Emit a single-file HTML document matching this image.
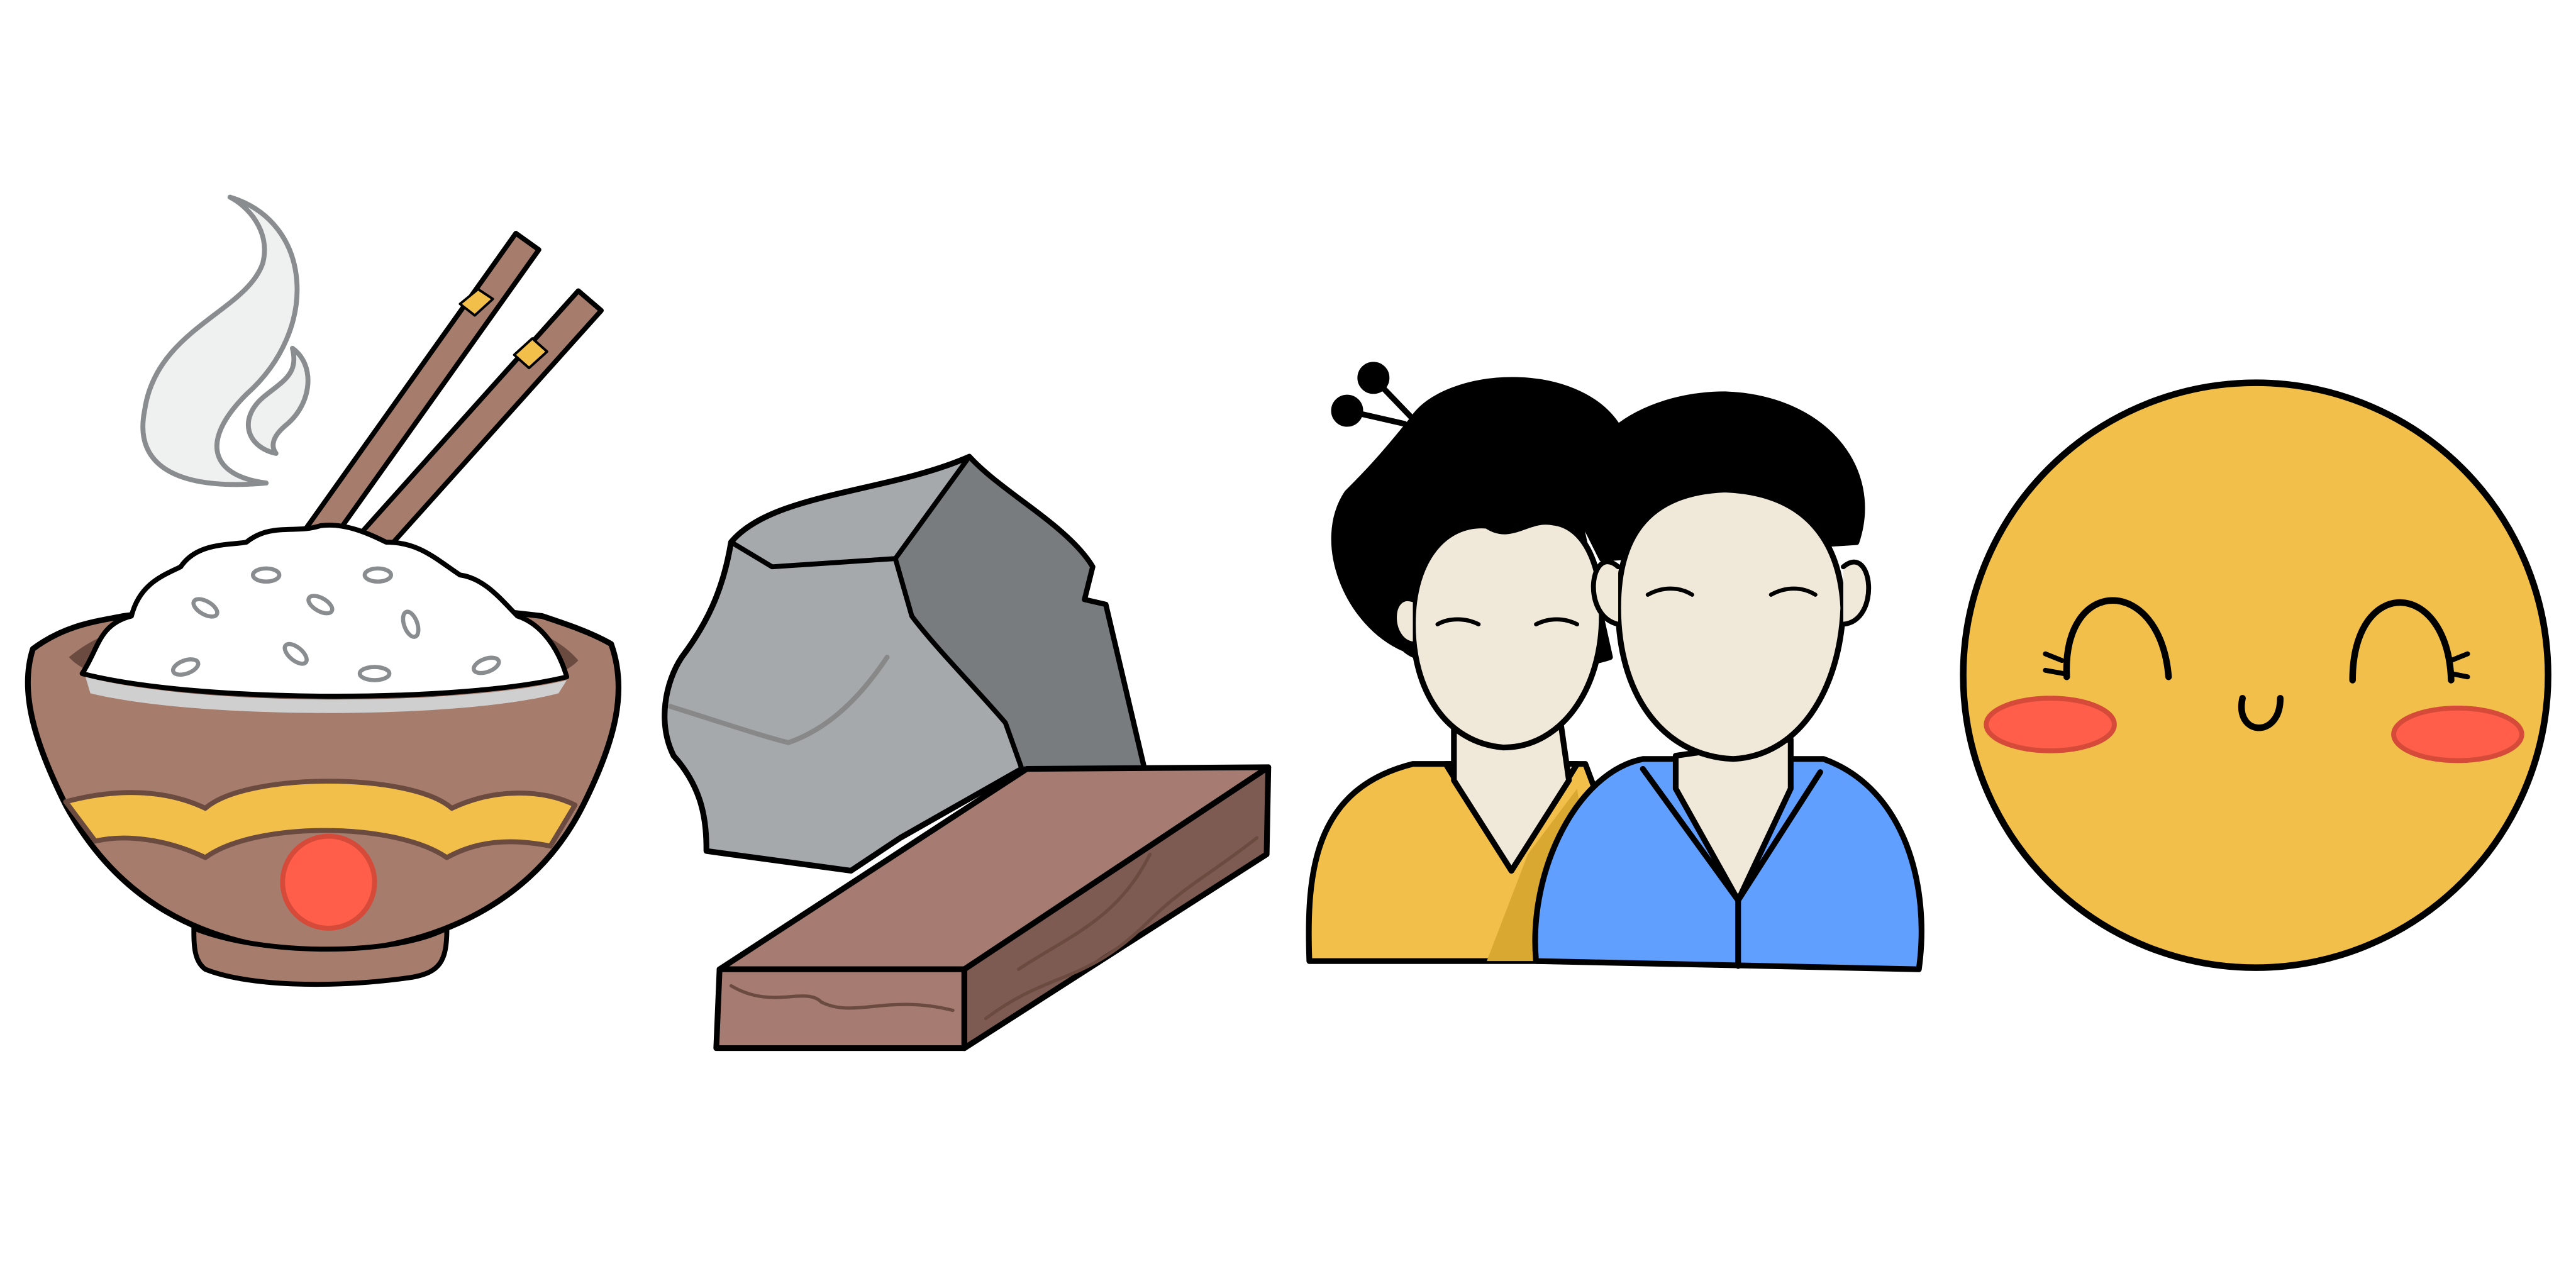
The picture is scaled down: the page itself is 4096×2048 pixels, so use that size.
<!DOCTYPE html>
<html><head><meta charset="utf-8"><title>Illustrations</title>
<style>html,body{margin:0;padding:0;background:#fff;}svg{display:block;}</style></head>
<body>
<svg width="4096" height="2048" viewBox="0 0 1568 784" xmlns="http://www.w3.org/2000/svg" stroke-linejoin="round" stroke-linecap="round">
<rect width="1568" height="784" fill="#fff"/>

<!-- RICE BOWL -->
<g>
  <g fill="#eff1f0" stroke="#8a8d8f" stroke-width="3">
    <path d="M140 120 C190 135,195 200,150 240 C120 270,130 290,162 294 C120 298,80 290,88 250 C95 200,150 190,160 160 C165 140,150 125,140 120Z"/>
    <path d="M178 212 C192 222,190 245,175 258 C165 266,165 272,168 276 C150 272,145 255,160 242 C172 232,182 228,178 212Z"/>
  </g>
  <g stroke="#000" stroke-width="3">
    <polygon points="186,322 314,142 328,152 200,332" fill="#a67c6c"/>
    <polygon points="204,342 352,177 366,189 218,354" fill="#a67c6c"/>
    <polygon points="280,185 291,176 300,182 289,192" fill="#f2c04a" stroke-width="1.5"/>
    <polygon points="313,216 324,206 333,214 322,224" fill="#f2c04a" stroke-width="1.5"/>
  </g>
  <path d="M20 395 C40 380,60 378,75 375 C150 365,250 365,330 375 C345 380,360 385,372 392 C382 420,375 450,355 490 C330 540,280 575,200 580 C120 578,70 545,40 490 C20 450,12 420,20 395Z" fill="#a67c6c" stroke="#000" stroke-width="3.5"/>
  <path d="M42 400 C60 385,80 380,100 378 L300 378 C320 380,340 388,352 402 C340 415,300 425,200 427 C100 425,55 415,42 400Z" fill="#6b4a40"/>
  <path d="M50 410 C60 395,60 380,80 375 C85 355,100 350,110 345 C120 330,140 332,150 330 C165 318,180 325,195 320 C210 318,225 325,235 330 C255 330,265 340,280 350 C295 352,305 365,315 375 C330 380,340 395,345 412 C280 428,120 428,50 410Z" fill="#fff" stroke="#000" stroke-width="3"/>
  <path d="M52 412 C120 430,280 430,345 414 L340 422 C280 438,120 438,55 422Z" fill="#cfcfcf"/>
  <path d="M40 488 C70 480,100 480,125 492 C150 470,250 470,275 492 C300 480,330 480,350 490 L335 515 C310 510,290 512,272 522 C240 500,155 500,125 522 C100 510,75 508,58 512Z" fill="#f2c04a" stroke="#6b4a40" stroke-width="3"/>
  <circle cx="200" cy="537" r="28" fill="#ff5f4a" stroke="#d64a3a" stroke-width="3"/>
  <path d="M118 565 C160 582,240 582,272 565 C272 585,268 592,250 595 C200 602,150 600,125 590 C118 585,118 575,118 565Z" fill="#a67c6c" stroke="#000" stroke-width="3"/>
  <g fill="none" stroke="#8a8d8f" stroke-width="2.5">
    <ellipse cx="125" cy="370" rx="8" ry="4" transform="rotate(30 125 370)"/>
    <ellipse cx="162" cy="350" rx="8" ry="4"/><ellipse cx="195" cy="368" rx="8" ry="4" transform="rotate(30 195 368)"/>
    <ellipse cx="230" cy="350" rx="8" ry="4"/><ellipse cx="250" cy="380" rx="8" ry="4" transform="rotate(70 250 380)"/>
    <ellipse cx="180" cy="398" rx="8" ry="4" transform="rotate(40 180 398)"/><ellipse cx="113" cy="406" rx="8" ry="4" transform="rotate(-20 113 406)"/>
    <ellipse cx="228" cy="410" rx="9" ry="4"/><ellipse cx="296" cy="405" rx="8" ry="4" transform="rotate(-20 296 405)"/>
  </g>
</g>

<!-- STONE AND PLANK -->
<g>
  <path d="M445 330 C470 300,540 300,590 278 C610 300,650 320,665 345 L660 365 L673 368 L697 470 L622 468 L548 510 L518 530 L430 518 C430 500,428 480,410 460 C400 440,405 415,415 400 C430 380,440 360,445 330Z" fill="#a5a9ac" stroke="#000" stroke-width="3.5"/>
  <path d="M590 278 C610 300,650 320,665 345 L660 365 L673 368 L697 470 L622 468 L612 440 C595 420,570 395,555 375 L545 340Z" fill="#787c7f" stroke="#000" stroke-width="3"/>
  <path d="M545 340 L470 345 L445 330" fill="none" stroke="#000" stroke-width="3"/>
  <path d="M408 430 C440 440,470 450,480 452 C500 445,520 430,540 400" fill="none" stroke="#888" stroke-width="3"/>
</g>
<g stroke="#000" stroke-width="3.5">
  <polygon points="438,590 625,468 772,467 587,590" fill="#a67c72"/>
  <polygon points="438,590 587,590 587,638 436,638" fill="#a67c72"/>
  <polygon points="587,590 772,467 771,520 587,638" fill="#7d5a52"/>
  <g fill="none" stroke="#6b4a40" stroke-width="2">
    <path d="M445 600 C470 615,490 600,500 610 C520 620,540 605,580 615"/>
    <path d="M600 620 C640 590,660 600,700 560 C720 540,740 530,765 510"/>
    <path d="M620 590 C650 570,680 560,700 520"/>
  </g>
</g>

<!-- COUPLE -->
<g stroke="#000" stroke-width="3.5">
  <g>
    <line x1="836" y1="230" x2="860" y2="255"/><circle cx="836" cy="230" r="8" fill="#000"/>
    <line x1="820" y1="250" x2="855" y2="258"/><circle cx="820" cy="250" r="8" fill="#000"/>
    <path d="M860 255 C880 225,960 220,985 260 C990 280,975 300,960 310 L980 400 C950 410,870 410,855 395 C820 380,800 330,820 300 C830 290,840 280,860 255Z" fill="#000"/>
    <path d="M797 585 C795 530,800 480,860 465 L965 465 L1010 585Z" fill="#f2c04a"/>
    <path d="M930 520 L960 480 L975 585 L905 585Z" fill="#d9a830" stroke="none"/>
    <path d="M880 465 L920 530 L960 465Z" fill="#e8d8c8"/>
    <path d="M885 440 L885 475 L920 530 L955 475 L950 440Z" fill="#f0e8d8"/>
    <path d="M860 380 C860 340,880 318,905 320 C920 330,930 315,945 318 C965 320,975 345,975 375 C975 420,950 455,915 455 C880 452,860 420,860 380Z" fill="#f0e8d8"/>
    <path d="M875 380 C882 376,892 376,900 380 M935 380 C943 376,952 376,960 380" fill="none" stroke-width="2.5"/>
    <path d="M860 365 C845 360,845 390,860 392" fill="#f0e8d8" stroke-width="3"/>
  </g>
  <g>
    <path d="M965 320 C950 270,1000 240,1050 240 C1110 242,1145 285,1130 330 L975 340Z" fill="#000"/>
    <path d="M935 585 C930 530,960 470,1000 462 L1110 462 C1160 480,1175 540,1168 590Z" fill="#619ffe"/>
    <path d="M1020 460 L1020 480 L1058 548 L1090 480 L1090 450Z" fill="#f0e8d8"/>
    <path d="M1000 468 L1058 548 L1108 470" fill="none"/>
    <path d="M1058 548 L1058 588"/>
    <path d="M985 370 C985 330,1000 300,1050 298 C1100 300,1120 330,1122 370 C1120 420,1095 460,1055 462 C1010 460,985 420,985 370Z" fill="#f0e8d8"/>
    <path d="M985 345 C968 330,962 375,985 380 M1122 345 C1140 330,1145 378,1122 380" fill="#f0e8d8" stroke-width="3"/>
    <path d="M1003 362 C1012 357,1022 357,1030 362 M1078 362 C1087 357,1097 357,1105 362" fill="none" stroke-width="2.5"/>
  </g>
</g>

<!-- SMILEY -->
<g>
  <circle cx="1373" cy="411" r="178" fill="#f2c04a" stroke="#000" stroke-width="4"/>
  <path d="M1258 412 C1255 350,1315 350,1320 412" fill="none" stroke="#000" stroke-width="4"/>
  <path d="M1432 414 C1432 350,1490 352,1492 414" fill="none" stroke="#000" stroke-width="4"/>
  <path d="M1245 398 L1255 402 M1245 408 L1256 410 M1492 402 L1502 398 M1492 410 L1502 412" stroke="#000" stroke-width="3"/>
  <path d="M1365 425 C1360 448,1388 450,1388 425" fill="none" stroke="#000" stroke-width="4"/>
  <ellipse cx="1248" cy="441" rx="39" ry="16" fill="#ff5f4a" stroke="#d64a3a" stroke-width="3"/>
  <ellipse cx="1496" cy="447" rx="39" ry="16" fill="#ff5f4a" stroke="#d64a3a" stroke-width="3"/>
</g>
</svg>
</body></html>
